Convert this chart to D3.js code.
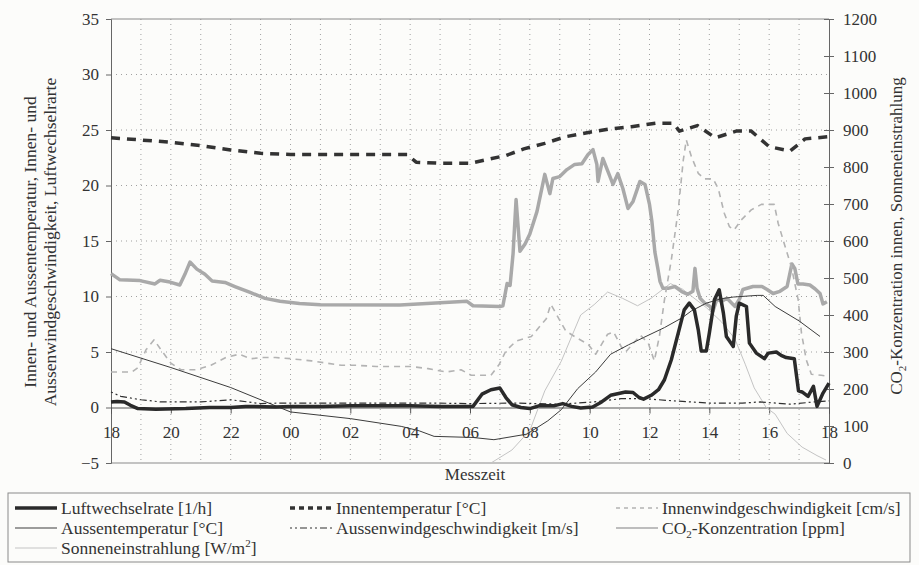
<!DOCTYPE html>
<html>
<head>
<meta charset="utf-8">
<script src="https://cdn.jsdelivr.net/npm/d3@7"></script>
<style>
  body { margin: 0; background: #fcfcfa; }
  svg { font-family: "Liberation Serif", "DejaVu Serif", serif; }
</style>
</head>
<body>
<div id="chart"></div>
<script>
// x values are hours after 18:00 (0..24)
const xTickLabels = ["18", "20", "22", "00", "02", "04", "06", "08", "10", "12", "14", "16", "18"];
const leftTicks = [-5, 0, 5, 10, 15, 20, 25, 30, 35];
const rightTicks = [0, 100, 200, 300, 400, 500, 600, 700, 800, 900, 1000, 1100, 1200];

// left axis series
const luftwechselrate = [
  [0, 0.5], [0.2, 0.55], [0.45, 0.5], [0.65, 0.2], [0.9, -0.1], [1.5, -0.15], [2.5, -0.1], [3.3, 0],
  [4, 0], [4.5, 0.1], [5.5, 0.05], [6, 0.1], [7, 0.1], [8, 0.15], [9, 0.15], [10, 0.15], [11, 0.1],
  [12.1, 0.1], [12.4, 1.2], [12.7, 1.6], [13.0, 1.75], [13.2, 0.9], [13.4, 0.25], [13.7, 0], [14.0, -0.1],
  [14.3, 0.15], [14.8, 0.15], [15.1, 0.35], [15.4, 0.1], [15.7, -0.05], [16.1, 0.05], [16.4, 0.5],
  [16.7, 1.1], [17.2, 1.4], [17.45, 1.35], [17.65, 0.9], [17.8, 0.75], [18.06, 1.1], [18.3, 1.6],
  [18.5, 2.5], [18.73, 4.3], [18.96, 6.7], [19.16, 8.8], [19.33, 9.4], [19.5, 8.8], [19.63, 7.0],
  [19.73, 5.1], [19.9, 5.1], [20.0, 6.7], [20.17, 9.7], [20.33, 10.6], [20.47, 8.5], [20.57, 6.4],
  [20.8, 5.5], [20.9, 8.2], [21.0, 9.4], [21.24, 9.1], [21.34, 5.8], [21.57, 4.9], [21.84, 4.4],
  [21.97, 4.9], [22.24, 5.0], [22.4, 4.7], [22.57, 4.5], [22.84, 4.4], [22.98, 1.5], [23.1, 1.4],
  [23.3, 1.0], [23.48, 1.9], [23.6, 0.1], [23.8, 1.3], [24, 2.2]
];
const innentemperatur = [
  [0, 24.3], [1, 24.1], [2, 23.9], [3, 23.6], [4, 23.2], [5, 22.9], [6, 22.8], [7, 22.8], [8, 22.8],
  [9, 22.8], [9.9, 22.8], [10.2, 22.1], [11, 22.0], [12, 22.0], [12.5, 22.3], [13.2, 22.7], [13.8, 23.3],
  [14.5, 23.8], [15.2, 24.4], [16, 24.8], [16.7, 25.1], [17.4, 25.3], [18.2, 25.6], [18.8, 25.6],
  [19.0, 24.9], [19.6, 25.4], [20.2, 24.3], [20.9, 24.9], [21.4, 24.9], [22.0, 23.5], [22.7, 23.1],
  [23.2, 24.2], [24, 24.4]
];
const innenwind = [
  [0, 3.2], [0.7, 3.2], [0.9, 3.6], [1.17, 5.2], [1.44, 6.1], [1.67, 5.2], [2.0, 4.0], [2.34, 3.4],
  [2.84, 3.4], [3.34, 3.8], [3.84, 4.5], [4.28, 4.8], [4.68, 4.4], [5.08, 4.5], [5.5, 4.5], [6.0, 4.4],
  [6.7, 4.2], [7.7, 3.8], [8.2, 3.8], [8.87, 3.7], [9.5, 3.7], [10.0, 3.7], [10.6, 3.5], [11.2, 3.2],
  [11.7, 3.4], [12.04, 2.9], [12.7, 2.9], [12.98, 3.9], [13.2, 5.1], [13.55, 6.0], [14.05, 6.4],
  [14.55, 8.0], [14.7, 9.3], [14.95, 8.1], [15.2, 6.9], [15.55, 6.3], [15.95, 5.7], [16.2, 4.8],
  [16.6, 6.6], [16.8, 6.8], [17.05, 5.5], [17.2, 5.0], [17.4, 5.6], [17.7, 6.5], [17.96, 5.8],
  [18.16, 4.2], [18.33, 6.4], [18.5, 9.7], [18.73, 13.3], [18.96, 17.8], [19.13, 22.3], [19.23, 24.1],
  [19.4, 22.6], [19.63, 21.1], [19.83, 20.6], [20.13, 20.6], [20.3, 19.7], [20.5, 17.5], [20.67, 16.3],
  [20.83, 16.0], [21.07, 16.9], [21.4, 17.8], [21.74, 18.3], [22.17, 18.3], [22.3, 16.6], [22.5, 14.8],
  [22.74, 12.7], [22.97, 9.7], [23.08, 6.7], [23.24, 4.3], [23.41, 3.0], [23.74, 2.9], [24, 2.8]
];
const aussentemperatur = [
  [0, 5.3], [2, 3.6], [4, 1.8], [6, -0.4], [8, -1.0], [9.7, -1.7], [10.3, -2.1], [10.8, -2.6],
  [12.1, -2.7], [12.8, -2.9], [13.9, -2.4], [14.6, -1.2], [15.05, -0.2], [15.6, 1.7], [16.2, 3.2],
  [16.7, 4.8], [17.3, 5.65], [17.8, 6.3], [18.5, 7.2], [19.1, 8.1], [19.4, 8.7], [19.9, 9.4],
  [20.4, 9.8], [20.8, 9.95], [21.6, 10.1], [21.8, 10.1], [22.2, 9.1], [23.0, 7.8], [23.7, 6.4]
];
const aussenwind = [
  [0, 1.4], [0.33, 1.0], [1, 0.7], [1.67, 0.5], [2.34, 0.5], [3, 0.5], [4, 0.7], [5, 0.35], [5.7, 0.4],
  [7, 0.4], [9, 0.4], [10.8, 0.4], [12, 0.35], [13.5, 0.4], [15, 0.3], [16.15, 0.5], [17.05, 0.8],
  [17.8, 0.8], [18.8, 0.6], [20, 0.4], [21.1, 0.4], [21.7, 0.5], [22.7, 0.3], [23.5, 0.5], [24, 0.6]
];

// right axis series
const co2 = [
  [0, 512], [0.3, 495], [0.97, 493], [1.47, 484], [1.64, 494], [1.97, 489], [2.3, 481], [2.47, 510],
  [2.64, 543], [2.87, 524], [3.14, 510], [3.38, 492], [3.81, 488], [4.14, 477], [4.65, 461], [5.15, 445],
  [5.65, 437], [6.3, 431], [7.0, 428], [9.66, 427], [11.9, 437], [12.1, 425], [13.0, 423], [13.1, 425],
  [13.24, 485], [13.34, 480], [13.44, 566], [13.54, 712], [13.67, 572], [13.84, 592], [14.0, 619],
  [14.24, 680], [14.5, 780], [14.67, 728], [14.77, 769], [15.0, 774], [15.24, 793], [15.5, 807],
  [15.74, 809], [15.94, 833], [16.11, 847], [16.24, 807], [16.28, 761], [16.44, 823], [16.61, 788],
  [16.78, 753], [16.94, 782], [17.11, 742], [17.28, 688], [17.45, 707], [17.68, 761], [17.85, 753],
  [18.0, 699], [18.08, 653], [18.18, 570], [18.28, 525], [18.35, 491], [18.45, 472], [18.62, 472],
  [18.85, 477], [19.08, 463], [19.28, 456], [19.45, 464], [19.52, 526], [19.59, 472], [19.69, 445],
  [19.85, 432], [20.02, 423], [20.12, 410], [20.25, 442], [20.42, 437], [20.59, 445], [20.76, 431],
  [20.86, 423], [21.02, 445], [21.12, 469], [21.46, 477], [21.76, 477], [21.93, 469], [22.13, 458],
  [22.36, 464], [22.6, 477], [22.76, 538], [22.86, 525], [22.96, 484], [23.13, 484], [23.36, 481],
  [23.53, 471], [23.7, 458], [23.8, 430], [23.93, 436]
];
const sonne = [
  [12.5, 0], [12.7, 0], [13.4, 35], [14.0, 88], [14.5, 195], [15.05, 275], [15.7, 400], [16.15, 428],
  [16.6, 462], [17.1, 445], [17.6, 425], [18.05, 445], [18.7, 485], [19.1, 470], [19.9, 420],
  [20.4, 382], [20.85, 336], [21.2, 267], [21.5, 203], [21.9, 150], [22.2, 132], [22.6, 80],
  [23.1, 43], [23.6, 20], [23.9, 8]
];

const W = 919, H = 565;
const plot = { left: 111, right: 829, top: 19, bottom: 463 };

const svg = d3.select("#chart").append("svg")
    .attr("width", W)
    .attr("height", H);

const x = d3.scaleLinear().domain([0, 24]).range([plot.left, plot.right]);
const yL = d3.scaleLinear().domain([-5, 35]).range([plot.bottom, plot.top]);
const yR = d3.scaleLinear().domain([0, 1200]).range([plot.bottom, plot.top]);

const textColor = "#333";
const tickFont = 17;

// dotted grid
const grid = svg.append("g").attr("stroke", "#a0a0a0").attr("stroke-width", 1).attr("stroke-dasharray", "1,4");
grid.selectAll(".vg").data(d3.range(1, 24)).join("line")
    .attr("x1", d => x(d)).attr("x2", d => x(d))
    .attr("y1", plot.top).attr("y2", plot.bottom);
grid.selectAll(".hg").data(leftTicks.filter(t => t > -5 && t < 35 && t !== 0)).join("line")
    .attr("x1", plot.left).attr("x2", plot.right)
    .attr("y1", d => yL(d)).attr("y2", d => yL(d));

// frame lines (top, bottom)
svg.append("line").attr("x1", plot.left).attr("x2", plot.right).attr("y1", plot.top).attr("y2", plot.top)
    .attr("stroke", "#8a8a8a");
svg.append("line").attr("x1", plot.left).attr("x2", plot.right).attr("y1", plot.bottom).attr("y2", plot.bottom)
    .attr("stroke", "#8a8a8a");

// left axis
const leftAxis = svg.append("g")
    .attr("transform", `translate(${plot.left},0)`)
    .call(d3.axisLeft(yL).tickValues(leftTicks).tickSize(5).tickPadding(7).tickFormat(d3.format("d")));
leftAxis.select(".domain").attr("stroke", "#666");
leftAxis.selectAll(".tick line").attr("stroke", "#666");
leftAxis.selectAll("text").attr("font-size", tickFont).attr("fill", textColor)
    .attr("font-family", "Liberation Serif");

// right axis, ticks crossing the line
const rightAxis = svg.append("g")
    .attr("transform", `translate(${plot.right},0)`)
    .call(d3.axisRight(yR).tickValues(rightTicks).tickSize(5).tickPadding(9).tickFormat(d3.format("d")));
rightAxis.select(".domain").attr("stroke", "#666");
rightAxis.selectAll(".tick line").attr("x1", -5).attr("stroke", "#666");
rightAxis.selectAll("text").attr("font-size", tickFont).attr("fill", textColor)
    .attr("font-family", "Liberation Serif");

// x axis on the zero line
const xAxis = svg.append("g")
    .attr("transform", `translate(0,${yL(0)})`)
    .call(d3.axisBottom(x).tickValues(d3.range(0, 25, 2)).tickSize(6).tickPadding(12)
        .tickFormat((d, i) => xTickLabels[i]));
xAxis.select(".domain").attr("stroke", "#555");
xAxis.selectAll(".tick line").attr("stroke", "#555");
xAxis.selectAll("text").attr("font-size", tickFont).attr("fill", textColor)
    .attr("font-family", "Liberation Serif");

// series
const lineL = d3.line().x(d => x(d[0])).y(d => yL(d[1]));
const lineR = d3.line().x(d => x(d[0])).y(d => yR(d[1]));

const series = [
  { name: "Sonneneinstrahlung", data: sonne, gen: lineR, color: "#c4c4c4", width: 1, dash: null },
  { name: "CO2", data: co2, gen: lineR, color: "#a9a9a9", width: 3.5, dash: null },
  { name: "Innenwind", data: innenwind, gen: lineL, color: "#b3b3b3", width: 1.6, dash: "6,5" },
  { name: "Aussentemperatur", data: aussentemperatur, gen: lineL, color: "#3c3c3c", width: 1, dash: null },
  { name: "Aussenwind", data: aussenwind, gen: lineL, color: "#2f2f2f", width: 1.2, dash: "2,3,2,3,7,3" },
  { name: "Innentemperatur", data: innentemperatur, gen: lineL, color: "#333", width: 3.5, dash: "9,7" },
  { name: "Luftwechselrate", data: luftwechselrate, gen: lineL, color: "#2a2a2a", width: 3.5, dash: null }
];

svg.append("g").selectAll("path").data(series).join("path")
    .attr("d", s => s.gen(s.data))
    .attr("fill", "none")
    .attr("stroke", s => s.color)
    .attr("stroke-width", s => s.width)
    .attr("stroke-dasharray", s => s.dash)
    .attr("stroke-linejoin", "round");

// axis titles
svg.append("text")
    .attr("transform", "translate(475,476)")
    .attr("text-anchor", "middle").attr("dominant-baseline", "middle")
    .attr("font-size", 17).attr("fill", textColor)
    .text("Messzeit");

const leftTitle = svg.append("text")
    .attr("transform", "translate(36,242) rotate(-90)")
    .attr("text-anchor", "middle")
    .attr("font-size", 17.5).attr("fill", textColor);
leftTitle.append("tspan").attr("x", 0).attr("dy", 0).text("Innen- und Aussentemperatur, Innen- und");
leftTitle.append("tspan").attr("x", 0).attr("dy", 20).text("Aussenwindgeschwindigkeit, Luftwechselrarte");

const rightTitle = svg.append("text")
    .attr("transform", "translate(902,236) rotate(-90)")
    .attr("text-anchor", "middle")
    .attr("font-size", 17).attr("fill", textColor);
rightTitle.append("tspan").text("CO");
rightTitle.append("tspan").attr("font-size", 11).attr("dy", 4).text("2");
rightTitle.append("tspan").attr("dy", -4).text("-Konzentration innen, Sonneneinstrahlung");

// legend
const legend = svg.append("g");
legend.append("rect")
    .attr("x", 8).attr("y", 493).attr("width", 902).attr("height", 69)
    .attr("fill", "none").attr("stroke", "#8a8a8a");

const legendItems = [
  { s: "Luftwechselrate", col: 0, row: 0, label: [["Luftwechselrate [1/h]"]] },
  { s: "Innentemperatur", col: 1, row: 0, label: [["Innentemperatur [°C]"]], dash: "5,4" },
  { s: "Innenwind", col: 2, row: 0, label: [["Innenwindgeschwindigkeit [cm/s]"]], dash: "4,4" },
  { s: "Aussentemperatur", col: 0, row: 1, label: [["Aussentemperatur [°C]"]] },
  { s: "Aussenwind", col: 1, row: 1, label: [["Aussenwindgeschwindigkeit [m/s]"]] },
  { s: "CO2", col: 2, row: 1, label: [["CO"], ["2", "sub"], ["-Konzentration [ppm]"]], width: 1.5 },
  { s: "Sonneneinstrahlung", col: 0, row: 2, label: [["Sonneneinstrahlung [W/m"], ["2", "sup"], ["]"]] }
];
const colX = [15, 290, 616];
const rowY = [508, 528, 548];

legendItems.forEach(item => {
  const s = series.find(d => d.name === item.s);
  const g = legend.append("g").attr("transform", `translate(${colX[item.col]},${rowY[item.row]})`);
  g.append("line")
      .attr("x1", 0).attr("x2", 42).attr("y1", 0).attr("y2", 0)
      .attr("stroke", s.color)
      .attr("stroke-width", item.width || s.width)
      .attr("stroke-dasharray", item.dash || s.dash);
  const t = g.append("text").attr("x", 46).attr("y", 6)
      .attr("font-size", 17.5).attr("fill", textColor);
  item.label.forEach(([str, kind]) => {
    if (kind === "sub") t.append("tspan").attr("font-size", 11).attr("dy", 4).text(str);
    else if (kind === "sup") t.append("tspan").attr("font-size", 11).attr("dy", -7).text(str);
    else {
      const prev = t.selectAll("tspan").size() ? t.select("tspan:last-child") : null;
      const back = prev && prev.text() === "2" ? (item.label[1][1] === "sub" ? -4 : 7) : 0;
      t.append("tspan").attr("dy", back).text(str);
    }
  });
});
</script>
</body>
</html>
